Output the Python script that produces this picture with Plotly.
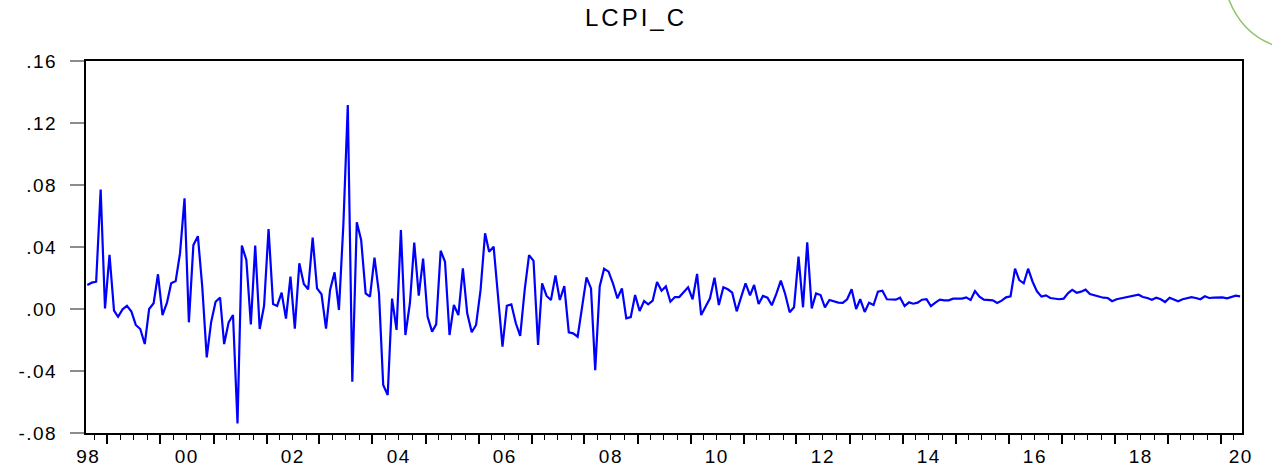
import pandas as pd
import plotly.graph_objects as go

# ---- data: monthly values, 1998M08 .. 2020M05 ----
v1998 = [0.0155, 0.0170, 0.0176, 0.0770, 0.0004]
v1999 = [0.0350, -0.0010, -0.0050, -0.0002, 0.0020, -0.0017, -0.0103, -0.0129, -0.0226, 0.0000, 0.0037, 0.0224]
v2000 = [-0.0039, 0.0041, 0.0166, 0.0180, 0.0360, 0.0714, -0.0086, 0.0413, 0.0470, 0.0144, -0.0312, -0.0086]
v2001 = [0.0047, 0.0073, -0.0226, -0.0086, -0.0039, -0.0738, 0.0409, 0.0316, -0.0099, 0.0409, -0.0129, 0.0021]
v2002 = [0.0516, 0.0032, 0.0020, 0.0105, -0.0062, 0.0209, -0.0127, 0.0295, 0.0161, 0.0127, 0.0460, 0.0133]
v2003 = [0.0095, -0.0127, 0.0123, 0.0237, -0.0006, 0.0553, 0.1316, -0.0469, 0.0559, 0.0445, 0.0101, 0.0080]
v2004 = [0.0331, 0.0101, -0.0490, -0.0555, 0.0067, -0.0135, 0.0510, -0.0168, 0.0037, 0.0428, 0.0086, 0.0325]
v2005 = [-0.0050, -0.0146, -0.0099, 0.0376, 0.0305, -0.0168, 0.0026, -0.0039, 0.0262, -0.0028, -0.0150, -0.0103]
v2006 = [0.0123, 0.0488, 0.0370, 0.0402, 0.0101, -0.0243, 0.0021, 0.0030, -0.0092, -0.0174, 0.0123, 0.0348]
v2007 = [0.0310, -0.0232, 0.0166, 0.0084, 0.0058, 0.0217, 0.0058, 0.0148, -0.0150, -0.0157, -0.0179, 0.0015]
v2008 = [0.0204, 0.0133, -0.0394, 0.0146, 0.0260, 0.0241, 0.0166, 0.0069, 0.0133, -0.0060, -0.0052, 0.0090]
v2009 = [-0.0013, 0.0052, 0.0030, 0.0054, 0.0174, 0.0118, 0.0146, 0.0047, 0.0077, 0.0077, 0.0108, 0.0140]
v2010 = [0.0063, 0.0226, -0.0039, 0.0019, 0.0069, 0.0202, 0.0026, 0.0140, 0.0127, 0.0105, -0.0015, 0.0075]
v2011 = [0.0166, 0.0088, 0.0155, 0.0032, 0.0084, 0.0073, 0.0024, 0.0097, 0.0183, 0.0097, -0.0021, 0.0011]
v2012 = [0.0338, 0.0011, 0.0430, 0.0004, 0.0101, 0.0090, 0.0011, 0.0058, 0.0047, 0.0041, 0.0039, 0.0063]
v2013 = [0.0127, 0.0000, 0.0063, -0.0019, 0.0041, 0.0026, 0.0112, 0.0118, 0.0063, 0.0060, 0.0060, 0.0073]
v2014 = [0.0019, 0.0043, 0.0034, 0.0041, 0.0060, 0.0063, 0.0019, 0.0041, 0.0060, 0.0056, 0.0056, 0.0067]
v2015 = [0.0069, 0.0067, 0.0075, 0.0058, 0.0116, 0.0080, 0.0060, 0.0058, 0.0056, 0.0039, 0.0054, 0.0075]
v2016 = [0.0082, 0.0260, 0.0187, 0.0166, 0.0260, 0.0176, 0.0114, 0.0080, 0.0088, 0.0071, 0.0069, 0.0063]
v2017 = [0.0067, 0.0103, 0.0123, 0.0105, 0.0112, 0.0125, 0.0097, 0.0088, 0.0077, 0.0073, 0.0071, 0.0050]
v2018 = [0.0063, 0.0069, 0.0075, 0.0080, 0.0088, 0.0092, 0.0077, 0.0071, 0.0060, 0.0073, 0.0063, 0.0045]
v2019 = [0.0073, 0.0063, 0.0050, 0.0063, 0.0069, 0.0077, 0.0071, 0.0063, 0.0082, 0.0071, 0.0073, 0.0075]
v2020 = [0.0075, 0.0069, 0.0075, 0.0086, 0.0082]

start_month = "1998-08-01"
title_text = "LCPI_C"
x_labels = ["98", "00", "02", "04", "06", "08", "10", "12", "14", "16", "18", "20"]
y_tickvals = [0.16, 0.12, 0.08, 0.04, 0.00, -0.04, -0.08]
y_ticktext = [".16", ".12", ".08", ".04", ".00", "-.04", "-.08"]

values = (v1998 + v1999 + v2000 + v2001 + v2002 + v2003 + v2004 + v2005 + v2006 + v2007
          + v2008 + v2009 + v2010 + v2011 + v2012 + v2013 + v2014 + v2015 + v2016 + v2017
          + v2018 + v2019 + v2020)
# observations drawn at mid-month
dates = pd.date_range(start_month, periods=len(values), freq="MS") + pd.Timedelta(days=14)

x_range = ["1998-08-06", "2020-05-28"]
label_pos = (["1998-08-22"] + [f"{2000 + 2 * i}-07-01" for i in range(10)] + ["2020-05-20"])


def wide(s, spacing):
    # slightly widen text (the reference glyphs are horizontally stretched)
    return f"<span style='letter-spacing:{spacing}px'>{s}</span>"


fig = go.Figure()
fig.add_trace(go.Scatter(x=dates, y=values, mode="lines",
                         line=dict(color="#0000FF", width=2.2), showlegend=False,
                         hoverinfo="x+y"))
# empty helper trace so the label axis (x2) is drawn
fig.add_trace(go.Scatter(x=[dates[0], dates[-1]], y=[None, None], xaxis="x2", yaxis="y",
                         mode="lines", showlegend=False, hoverinfo="skip"))

font_family = "Liberation Sans, Arial, sans-serif"

fig.update_layout(
    width=1272, height=468,
    margin=dict(l=86, r=30, t=61, b=35, autoexpand=False),
    paper_bgcolor="white", plot_bgcolor="white",
    title=dict(text=wide(title_text, 3), x=0.5, xanchor="center", y=1 - 18 / 468,
               yanchor="middle", yref="container",
               font=dict(family=font_family, size=24, color="black")),
    font=dict(family=font_family, color="black"),
    xaxis=dict(type="date", range=x_range, showgrid=False, zeroline=False, automargin=False,
               showline=True, linecolor="black", linewidth=2, mirror=True,
               tick0="1999-01-01", dtick="M12", ticks="outside", ticklen=9,
               tickwidth=1.5, tickcolor="black", showticklabels=False,
               minor=dict(dtick="M3", tick0="1999-01-01", ticks="outside", ticklen=5,
                          tickwidth=1.2, tickcolor="black", showgrid=False)),
    xaxis2=dict(type="date", range=x_range, overlaying="x", anchor="y", side="bottom",
                showgrid=False, zeroline=False, showline=False, ticks="", automargin=False,
                tickmode="array", tickvals=label_pos,
                ticktext=[wide(t, 1.5) for t in x_labels],
                ticklabelstandoff=10,
                tickfont=dict(family=font_family, size=19, color="black")),
    yaxis=dict(range=[-0.08, 0.16], showgrid=False, zeroline=False, automargin=False,
               showline=True, linecolor="black", linewidth=2, mirror=True,
               tickmode="array", tickvals=y_tickvals,
               ticktext=[wide(t, 1.5) for t in y_ticktext],
               ticks="outside", ticklen=14, tickwidth=2, tickcolor="#8c8c8c",
               ticklabelstandoff=9,
               tickfont=dict(family=font_family, size=19, color="black")),
)

# decorative green arc in the top-right corner of the slide
fig.add_shape(type="path", xref="paper", yref="paper",
              path="M 0.988 1.17 Q 1.0 1.07 1.03 1.04",
              line=dict(color="#8fc46a", width=1.5))

fig.write_html("out.html", config={"displayModeBar": False},
               post_script="document.body.style.margin='0px';")
